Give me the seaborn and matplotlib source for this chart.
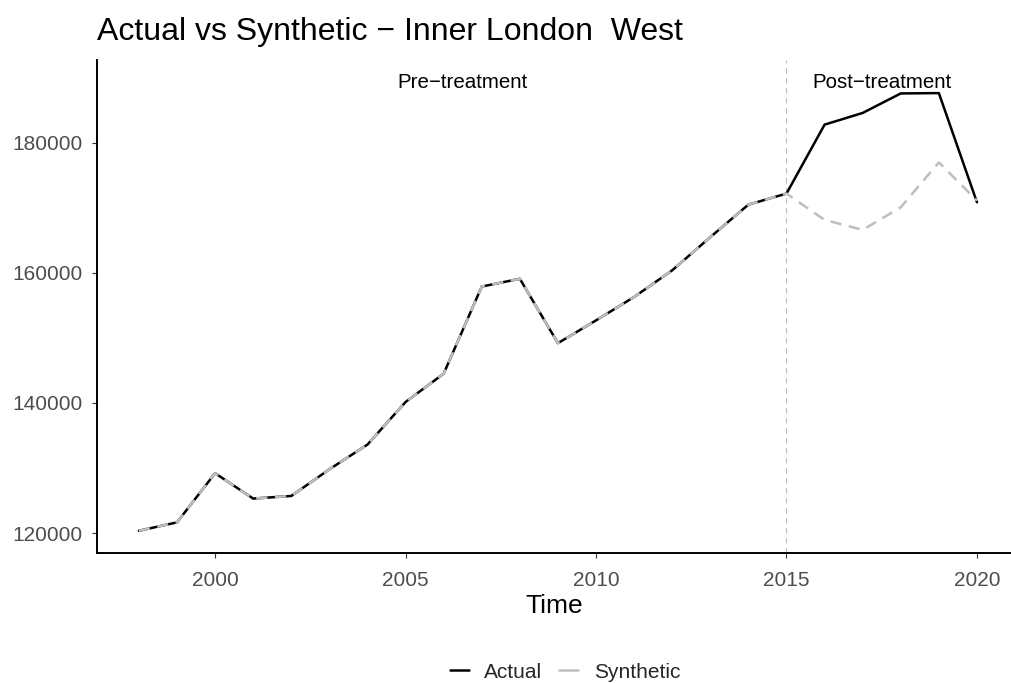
import matplotlib
matplotlib.use("Agg")
import matplotlib.pyplot as plt
import seaborn as sns
import pandas as pd

years = list(range(1998, 2021))
actual = [120350, 121640, 129200, 125300, 125700, 129800, 133600, 140150, 144500,
          157900, 159100, 149200, 152700, 156300, 160400, 165500, 170500, 172200,
          182800, 184600, 187600, 187650, 170860]
synthetic = [120350, 121640, 129200, 125300, 125700, 129800, 133600, 140150, 144500,
             157900, 159100, 149200, 152700, 156300, 160400, 165500, 170500, 172200,
             168150, 166620, 170090, 177000, 171120]
series_names = ["Actual", "Synthetic"]
title = "Actual vs Synthetic \u2212 Inner London  West"
treat_year = 2015
x_ticks = [2000, 2005, 2010, 2015, 2020]
y_ticks = [120000, 140000, 160000, 180000]

df = pd.DataFrame({
    "Time": years * 2,
    "value": actual + synthetic,
    "series": [series_names[0]] * len(years) + [series_names[1]] * len(years),
})

sns.set_style("white")
plt.rcParams["font.family"] = ["Liberation Sans", "DejaVu Sans"]

W, H = 1012, 683
fig = plt.figure(figsize=(W / 100, H / 100), dpi=100)
ax = fig.add_axes([97 / W, 1 - 553 / H, (1012 - 97) / W, (553 - 60) / H])

sns.lineplot(data=df, x="Time", y="value", hue="series", style="series",
             palette={"Actual": "black", "Synthetic": "#BEBEBE"},
             dashes={"Actual": "", "Synthetic": (4.5, 3.0)},
             linewidth=1.8, legend=False, ax=ax)

ax.axvline(treat_year, color="#BEBEBE", linewidth=0.8, linestyle=(0, (5, 4)), zorder=0)

ymax = max(max(actual), max(synthetic))
ax.text((years[0] + treat_year) / 2, ymax * 1.0085, "Pre\u2212treatment",
        ha="center", va="center", fontsize=14.8, color="black")
ax.text((treat_year + years[-1]) / 2, ymax * 1.0085, "Post\u2212treatment",
        ha="center", va="center", fontsize=14.8, color="black")

ax.set_xlim(1996.9, 2020.92)
ax.set_ylim(116930, 192740)
ax.set_xticks(x_ticks)
ax.set_yticks(y_ticks)
ax.set_xticklabels([str(t) for t in x_ticks])
ax.set_yticklabels([str(t) for t in y_ticks])
ax.tick_params(axis="both", which="major", length=3.8, width=0.8, color="#333333",
               labelcolor="#4D4D4D", labelsize=15, direction="out",
               bottom=True, left=True)
ax.tick_params(axis="x", pad=8.8)
ax.tick_params(axis="y", pad=6.6)
for side in ["top", "right"]:
    ax.spines[side].set_visible(False)
for side in ["left", "bottom"]:
    ax.spines[side].set_color("black")
    ax.spines[side].set_linewidth(1.4)
ax.grid(False)
ax.set_xlabel("Time", fontsize=19, color="black", labelpad=3.5)
ax.set_ylabel("")

fig.text(97 / W, 1 - 40 / H, title, fontsize=23, ha="left", va="baseline", color="black")

handles = [plt.Line2D([], [], color="black", linewidth=1.8),
           plt.Line2D([], [], color="#BEBEBE", linewidth=1.8)]
fig.legend(handles, series_names, loc="center", bbox_to_anchor=(565 / W, 1 - 672 / H),
           ncol=2, frameon=False, fontsize=15, handlelength=0.9, handletextpad=0.75,
           columnspacing=0.8, borderpad=0)

fig.savefig("out.png", dpi=100, facecolor="white")
